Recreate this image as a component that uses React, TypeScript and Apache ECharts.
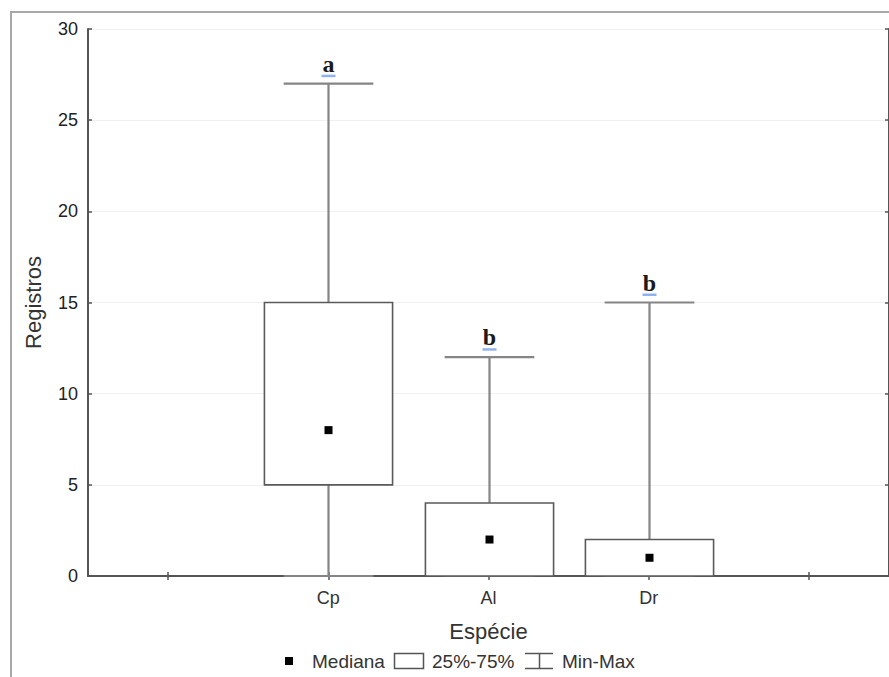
import React, { useEffect, useRef } from "react";
import * as echarts from "echarts";

const xCategories = ["", "Cp", "Al", "Dr", ""];
const species = ["Cp", "Al", "Dr"];
const minVals = [0, 0, 0];
const q1Vals = [5, 0, 0];
const medianVals = [8, 2, 1];
const q3Vals = [15, 4, 2];
const maxVals = [27, 12, 15];
const groupLetters = ["a", "b", "b"];
const yMin = 0;
const yMax = 30;
const yInterval = 5;

const SANS = "'Liberation Sans', Arial, Helvetica, sans-serif";
const SERIF = "'Liberation Serif', 'Times New Roman', serif";

export default function App() {
  const ref = useRef<HTMLDivElement>(null);

  useEffect(() => {
    if (!ref.current) return;
    const chart = echarts.init(ref.current, null, { renderer: "svg" });

    const data = species.map((s, i) => [
      xCategories.indexOf(s),
      minVals[i],
      q1Vals[i],
      medianVals[i],
      q3Vals[i],
      maxVals[i],
      i,
    ]);

    const renderItem = (params: any, api: any) => {
      const idx = api.value(0);
      const vMin = api.value(1);
      const vQ1 = api.value(2);
      const vMed = api.value(3);
      const vQ3 = api.value(4);
      const vMax = api.value(5);
      const k = api.value(6);
      const band = api.size([1, 0])[0];
      const pMin = api.coord([idx, vMin]);
      const pQ1 = api.coord([idx, vQ1]);
      const pMed = api.coord([idx, vMed]);
      const pQ3 = api.coord([idx, vQ3]);
      const pMax = api.coord([idx, vMax]);
      const cx = Math.round(pMin[0]) + 0.5;
      const boxW = band * 0.8;
      const capW = band * 0.56;
      const whiskerStyle = { stroke: "#858585", lineWidth: 2.2 };
      const children: any[] = [
        {
          type: "line",
          shape: { x1: cx, y1: pMin[1], x2: cx, y2: pMax[1] },
          style: whiskerStyle,
        },
        {
          type: "line",
          shape: { x1: cx - capW / 2, y1: pMin[1], x2: cx + capW / 2, y2: pMin[1] },
          style: whiskerStyle,
        },
        {
          type: "line",
          shape: { x1: cx - capW / 2, y1: pMax[1], x2: cx + capW / 2, y2: pMax[1] },
          style: whiskerStyle,
        },
        {
          type: "rect",
          shape: { x: cx - boxW / 2, y: pQ3[1], width: boxW, height: pQ1[1] - pQ3[1] },
          style: { fill: "#ffffff", stroke: "#5a5a5a", lineWidth: 1.6 },
        },
        {
          type: "rect",
          shape: { x: cx - 4, y: pMed[1] - 4, width: 8, height: 8 },
          style: { fill: "#000000" },
        },
        {
          type: "rect",
          shape: { x: cx - 7, y: pMax[1] - 9, width: 14, height: 2.5 },
          style: { fill: "#8fb3f0" },
        },
        {
          type: "text",
          style: {
            text: groupLetters[k],
            x: cx,
            y: pMax[1] - 8,
            align: "center",
            verticalAlign: "bottom",
            font: `bold 24px ${SERIF}`,
            fill: "#1a1a1a",
          },
        },
      ];
      return { type: "group", children };
    };

    const option: any = {
      animation: false,
      grid: { left: 88, top: 29, right: -4, bottom: 101, containLabel: false },
      xAxis: [
        {
          type: "category",
          data: xCategories,
          boundaryGap: true,
          position: "bottom",
          name: "Espécie",
          nameLocation: "middle",
          nameGap: 44,
          nameTextStyle: { fontSize: 22, fontFamily: SANS, color: "#333" },
          axisLine: { show: true, lineStyle: { color: "#555", width: 2 } },
          axisTick: { show: true, inside: true, alignWithLabel: true, length: 4, lineStyle: { color: "#555", width: 1.5 } },
          axisLabel: { fontSize: 18, fontFamily: SANS, color: "#333", margin: 13, interval: 0 },
          splitLine: { show: false },
        },
        {
          type: "category",
          data: xCategories,
          boundaryGap: true,
          position: "top",
          axisLine: { show: true, lineStyle: { color: "#555", width: 2 } },
          axisTick: { show: true, inside: true, alignWithLabel: true, length: 4, lineStyle: { color: "#555", width: 1.5 } },
          axisLabel: { show: false },
          splitLine: { show: false },
        },
      ],
      yAxis: [
        {
          type: "value",
          min: yMin,
          max: yMax,
          interval: yInterval,
          position: "left",
          name: "Registros",
          nameLocation: "middle",
          nameGap: 44,
          nameTextStyle: { fontSize: 22, fontFamily: SANS, color: "#333" },
          axisLine: { show: true, lineStyle: { color: "#555", width: 2 } },
          axisTick: { show: true, inside: true, length: 4, lineStyle: { color: "#555", width: 1.5 } },
          axisLabel: { fontSize: 18, fontFamily: SANS, color: "#222", margin: 10 },
          splitLine: { show: true, lineStyle: { color: "#f0f0f0", width: 1 } },
        },
        {
          type: "value",
          min: yMin,
          max: yMax,
          interval: yInterval,
          position: "right",
          axisLine: { show: true, lineStyle: { color: "#555", width: 2 } },
          axisTick: { show: true, inside: true, length: 4, lineStyle: { color: "#555", width: 1.5 } },
          axisLabel: { show: false },
          splitLine: { show: false },
        },
      ],
      series: [
        {
          type: "custom",
          name: "boxes",
          xAxisIndex: 0,
          yAxisIndex: 0,
          renderItem,
          encode: { x: 0, y: [1, 2, 3, 4, 5] },
          data,
          clip: false,
          z: 3,
        },
      ],
      graphic: [
        {
          type: "rect",
          shape: { x: 11, y: 12, width: 1000, height: 800 },
          style: { fill: "none", stroke: "#a8a8a8", lineWidth: 2 },
          silent: true,
          z: -1,
        },
        {
          type: "rect",
          shape: { x: 285, y: 657, width: 8, height: 8 },
          style: { fill: "#000" },
        },
        {
          type: "text",
          style: { text: "Mediana", x: 312, y: 661, verticalAlign: "middle", font: `19px ${SANS}`, fill: "#333" },
        },
        {
          type: "rect",
          shape: { x: 394.5, y: 653.5, width: 29, height: 15 },
          style: { fill: "#fff", stroke: "#555", lineWidth: 1.5 },
        },
        {
          type: "text",
          style: { text: "25%-75%", x: 432, y: 661, verticalAlign: "middle", font: `19px ${SANS}`, fill: "#333" },
        },
        {
          type: "line",
          shape: { x1: 525, y1: 653.5, x2: 553, y2: 653.5 },
          style: { stroke: "#555", lineWidth: 1.5 },
        },
        {
          type: "line",
          shape: { x1: 525, y1: 668.5, x2: 553, y2: 668.5 },
          style: { stroke: "#555", lineWidth: 1.5 },
        },
        {
          type: "line",
          shape: { x1: 539.5, y1: 653.5, x2: 539.5, y2: 668.5 },
          style: { stroke: "#555", lineWidth: 1.5 },
        },
        {
          type: "text",
          style: { text: "Min-Max", x: 562, y: 661, verticalAlign: "middle", font: `19px ${SANS}`, fill: "#333" },
        },
      ],
    };

    chart.setOption(option);
    return () => {
      chart.dispose();
    };
  }, []);

  return (
    <div
      ref={ref}
      style={{ position: "absolute", left: 0, top: 0, width: 889, height: 677, background: "#fff" }}
    />
  );
}
